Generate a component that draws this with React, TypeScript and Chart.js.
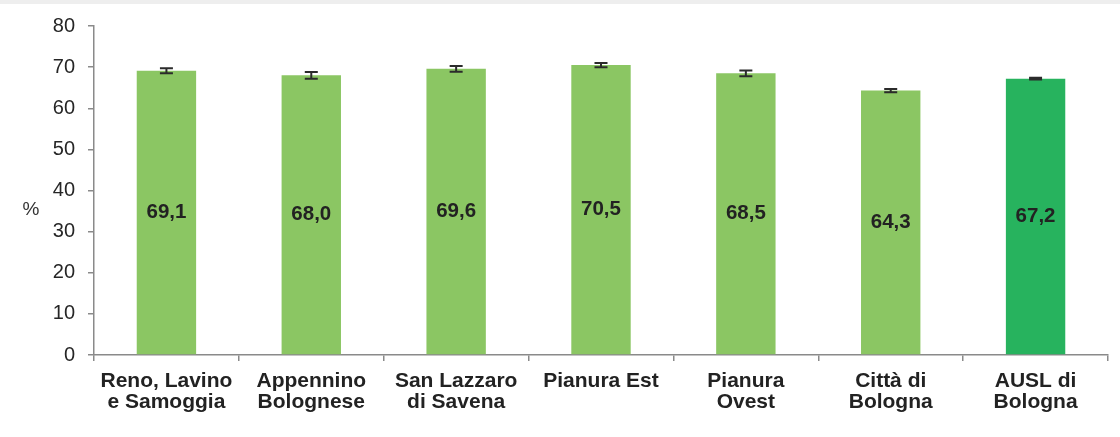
import React, { useEffect, useRef } from "react";
import { Chart, registerables } from "chart.js";

Chart.register(...registerables);

const categories: string[][] = [
  ["Reno, Lavino", "e Samoggia"],
  ["Appennino", "Bolognese"],
  ["San Lazzaro", "di Savena"],
  ["Pianura Est"],
  ["Pianura", "Ovest"],
  ["Città di", "Bologna"],
  ["AUSL di", "Bologna"],
];
const values: number[] = [69.1, 68.0, 69.6, 70.5, 68.5, 64.3, 67.2];
const errLow: number[] = [68.5, 67.2, 68.9, 70.0, 67.8, 63.9, 67.0];
const errHigh: number[] = [69.7, 68.8, 70.3, 71.0, 69.2, 64.7, 67.4];
const barColors: string[] = ["#8bc663", "#8bc663", "#8bc663", "#8bc663", "#8bc663", "#8bc663", "#27b35e"];
const yTicks: number[] = [0, 10, 20, 30, 40, 50, 60, 70, 80];

const FONT = "'Liberation Sans', Arial, sans-serif";

const extrasPlugin = {
  id: "extras",
  afterDatasetsDraw(chart: any) {
    const ctx = chart.ctx;
    const meta = chart.getDatasetMeta(0);
    const y = chart.scales.y;
    ctx.save();
    meta.data.forEach((bar: any, i: number) => {
      const yl = y.getPixelForValue(errLow[i]);
      const yh = y.getPixelForValue(errHigh[i]);
      ctx.strokeStyle = "#2b2b2b";
      ctx.lineWidth = 2;
      ctx.beginPath();
      ctx.moveTo(bar.x, yl);
      ctx.lineTo(bar.x, yh);
      ctx.moveTo(bar.x - 6.5, yl);
      ctx.lineTo(bar.x + 6.5, yl);
      ctx.moveTo(bar.x - 6.5, yh);
      ctx.lineTo(bar.x + 6.5, yh);
      ctx.stroke();
      ctx.fillStyle = "#222";
      ctx.font = `bold 20.5px ${FONT}`;
      ctx.textAlign = "center";
      ctx.textBaseline = "middle";
      ctx.fillText(values[i].toFixed(1).replace(".", ","), bar.x, (bar.y + bar.base) / 2);
    });
    ctx.fillStyle = "#333";
    ctx.font = `19px ${FONT}`;
    ctx.textAlign = "center";
    ctx.textBaseline = "middle";
    ctx.fillText("%", 31, y.getPixelForValue(35.3));
    ctx.restore();
  },
};

export default function App() {
  const ref = useRef<HTMLCanvasElement | null>(null);
  useEffect(() => {
    if (!ref.current) return;
    const chart = new Chart(ref.current, {
      type: "bar",
      data: {
        labels: categories,
        datasets: [
          {
            data: values,
            backgroundColor: barColors,
            borderWidth: 0,
            barPercentage: 0.41,
            categoryPercentage: 1,
          },
        ],
      },
      options: {
        animation: false,
        responsive: false,
        maintainAspectRatio: false,
        layout: { padding: { left: 0, right: 12, top: 26, bottom: 0 } },
        plugins: { legend: { display: false }, tooltip: { enabled: false } },
        scales: {
          x: {
            offset: true,
            grid: {
              display: true,
              offset: true,
              drawOnChartArea: false,
              drawTicks: true,
              tickLength: 6,
              color: "#8a8a8a",
              lineWidth: 1.5,
            },
            border: { display: true, color: "#8a8a8a", width: 1.5 },
            ticks: {
              color: "#222",
              font: { family: FONT, size: 21, weight: "bold", lineHeight: 1.0 },
              padding: 10,
              maxRotation: 0,
              autoSkip: false,
            },
            afterFit(scale: any) {
              scale.height = 82;
            },
          },
          y: {
            min: 0,
            max: 80,
            afterBuildTicks(scale: any) {
              scale.ticks = yTicks.map((v) => ({ value: v }));
            },
            grid: {
              display: true,
              drawOnChartArea: false,
              drawTicks: true,
              tickLength: 6,
              color: "#8a8a8a",
              lineWidth: 1.5,
            },
            border: { display: true, color: "#8a8a8a", width: 1.5 },
            ticks: {
              color: "#262626",
              font: { family: FONT, size: 20 },
              padding: 13,
            },
            afterFit(scale: any) {
              scale.width = 94;
            },
          },
        },
      },
      plugins: [extrasPlugin],
    });
    return () => chart.destroy();
  }, []);
  return (
    <div style={{ position: "absolute", left: 0, top: 0, width: 1120, height: 437, background: "#fff" }}>
      <div style={{ position: "absolute", left: 0, top: 0, width: 1120, height: 4, background: "#eeeeee" }} />
      <canvas ref={ref} width={1120} height={437} style={{ position: "absolute", left: 0, top: 0, width: 1120, height: 437 }} />
    </div>
  );
}
